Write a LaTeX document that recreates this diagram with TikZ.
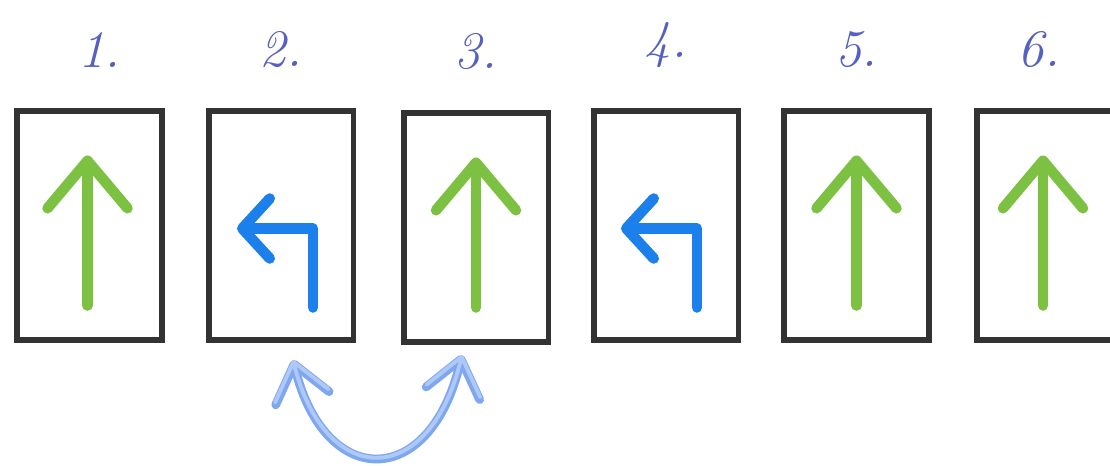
\documentclass[tikz,border=0pt]{standalone}
\usetikzlibrary{positioning,calc,arrows.meta}

\definecolor{boxgray}{HTML}{333333}
\definecolor{numblue}{HTML}{5560C0}
\definecolor{gogreen}{HTML}{7DC142}
\definecolor{turnblue}{HTML}{1C80EC}
\definecolor{swapblue}{HTML}{7FA7F0}
\definecolor{swaplight}{HTML}{AEC8F8}

\begin{document}
\begin{tikzpicture}[
        x=0.02cm, y=-0.02cm,
        card/.style={
            draw=boxgray, line width=3.4pt, fill=white,
            minimum width=2.9cm, minimum height=4.58cm
        },
        num/.style={text=numblue, font=\fontsize{30}{30}\selectfont\itshape, inner sep=0pt},
        goarrow/.style={
            draw=gogreen, line width=6pt, line cap=round,
            -{Straight Barb[round, length=0.95cm, width=1.6cm]}
        },
        turnarrow/.style={
            draw=turnblue, line width=6pt, line cap=round, line join=round,
            -{Straight Barb[round, length=0.55cm, width=1.2cm]}
        },
        swaparrow/.style={
            line cap=round,
            {Straight Barb[round, length=0.7cm, width=1.1cm]}-{Straight Barb[round, length=0.7cm, width=1.1cm]}
        }
    ]
    \clip (0,0) rectangle (1110,466);

    % 1. Cartas
    \node[card] (b1) at (89.5,225.5) {};
    \node[card] (b2) at (281,225.5) {};
    \node[card] (b3) at (476,227.5) {};
    \node[card] (b4) at (666,225.5) {};
    \node[card] (b5) at (856.5,225.5) {};
    \node[card] (b6) at (1049,225.5) {};

    % 2. Numeros encima
    \node[num, above=0.8cm of b1, xshift=0.2cm] (n1) {1.};
    \node[num, above=0.8cm of b2] (n2) {2.};
    \node[num, above=0.8cm of b3] (n3) {3.};
    \node[num, above=0.8cm of b4] (n4) {4.};
    \node[num, above=0.8cm of b5] (n5) {5.};
    \node[num, above=0.8cm of b6, xshift=-0.2cm] (n6) {6.};

    % 3. Flechas rectas (verdes)
    \draw[goarrow] ($(b1)+(-2,80)$) -- ($(b1)+(-2,-70)$);
    \draw[goarrow] ($(b3)+(0,80)$) -- ($(b3)+(0,-70)$);
    \draw[goarrow] ($(b5)+(0,80)$) -- ($(b5)+(0,-70)$);
    \draw[goarrow] ($(b6)+(-6,80)$) -- ($(b6)+(-6,-70)$);

    % 4. Giros a la izquierda (azules)
    \draw[turnarrow] ($(b2)+(32,82)$) -- ($(b2)+(32,3)$) -- ($(b2)+(-44,3)$);
    \draw[turnarrow] ($(b4)+(31,82)$) -- ($(b4)+(31,3)$) -- ($(b4)+(-45,3)$);

    % 5. Intercambio entre 2 y 3
    \coordinate (s1) at ($(b2.south)+(12,17)$);
    \coordinate (s2) at ($(b3.south)+(-14,10)$);
    \draw[swaparrow, draw=swapblue, line width=5pt]
        (s1) .. controls (325,490) and (430,490) .. (s2);
    \draw[swaparrow, draw=swaplight, line width=2.2pt]
        (s1) .. controls (325,490) and (430,490) .. (s2);

\end{tikzpicture}
\end{document}
